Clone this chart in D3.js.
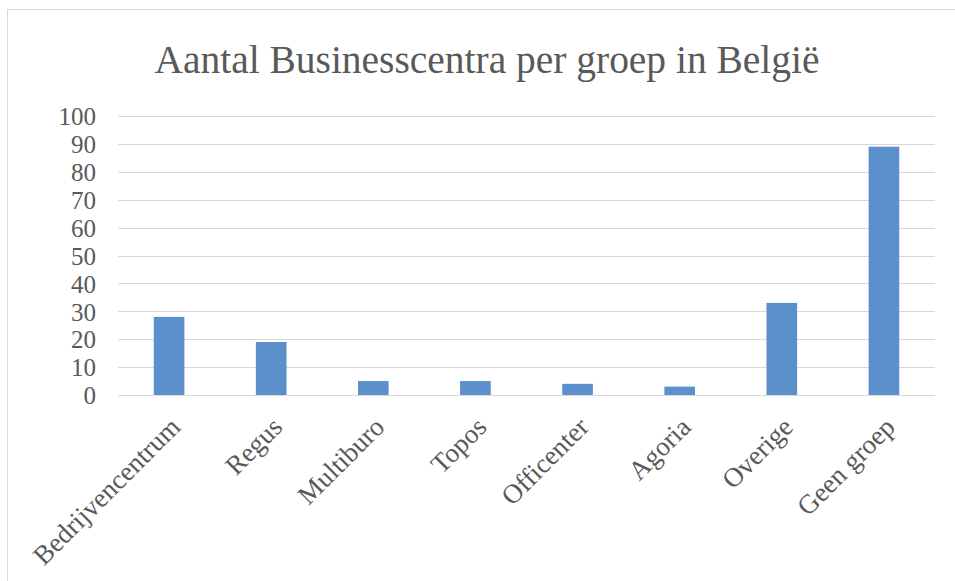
<!DOCTYPE html>
<html>
<head>
<meta charset="utf-8">
<script src="https://cdn.jsdelivr.net/npm/d3@7"></script>
<style>
  body { margin: 0; background: #fff; }
  svg text { font-family: "Liberation Serif", "DejaVu Serif", serif; fill: #595959; }
</style>
</head>
<body>
<script>
// data
var categories = ["Bedrijvencentrum", "Regus", "Multiburo", "Topos", "Officenter", "Agoria", "Overige", "Geen groep"];
var values = [28, 19, 5, 5, 4, 3, 33, 89];
var yTicks = [0, 10, 20, 30, 40, 50, 60, 70, 80, 90, 100];
var title = "Aantal Businesscentra per groep in België";

var W = 955, H = 581;
var plotLeft = 118, plotRight = 935, plotTop = 116, plotBottom = 395;

var svg = d3.select("body").append("svg")
    .attr("width", W)
    .attr("height", H);

// chart frame
svg.append("rect")
    .attr("x", 7.5).attr("y", 9.5)
    .attr("width", W).attr("height", H)
    .attr("fill", "none")
    .attr("stroke", "#d9d9d9");

var x = d3.scaleBand()
    .domain(categories)
    .range([plotLeft, plotRight])
    .paddingInner(0.7)
    .paddingOuter(0.35);

var y = d3.scaleLinear()
    .domain([0, 100])
    .range([plotBottom, plotTop]);

// gridlines
svg.append("g")
    .selectAll("line")
    .data(yTicks)
    .join("line")
    .attr("x1", plotLeft).attr("x2", plotRight)
    .attr("y1", function(d){ return Math.round(y(d)) + 0.5; })
    .attr("y2", function(d){ return Math.round(y(d)) + 0.5; })
    .attr("stroke", "#d9d9d9")
    .attr("stroke-width", 1.2);

// y axis labels
var yAxis = d3.axisLeft(y).tickValues(yTicks).tickSize(0).tickPadding(0);
var gy = svg.append("g")
    .attr("transform", "translate(96,0)")
    .call(yAxis);
gy.select(".domain").remove();
gy.selectAll("text")
    .style("font-size", "25px")
    .attr("fill", "#595959")
    .attr("dy", "0.35em");

// bars
svg.append("g")
    .selectAll("rect")
    .data(values)
    .join("rect")
    .attr("x", function(d, i){ return x(categories[i]); })
    .attr("y", function(d){ return y(d); })
    .attr("width", x.bandwidth())
    .attr("height", function(d){ return y(0) - y(d); })
    .attr("fill", "#5b90cc");

// x axis labels
var xAxis = d3.axisBottom(x).tickSize(0).tickPadding(0);
var gx = svg.append("g")
    .attr("transform", "translate(0," + plotBottom + ")")
    .call(xAxis);
gx.select(".domain").remove();
gx.selectAll("text")
    .style("font-size", "27px")
    .attr("fill", "#595959")
    .attr("text-anchor", "end")
    .attr("dy", "0.35em")
    .attr("y", 0)
    .attr("transform", "translate(6,27) rotate(-45)");

// title
svg.append("text")
    .attr("x", 487)
    .attr("y", 73)
    .attr("text-anchor", "middle")
    .attr("textLength", 665)
    .attr("lengthAdjust", "spacingAndGlyphs")
    .style("font-size", "40px")
    .text(title);
</script>
</body>
</html>
